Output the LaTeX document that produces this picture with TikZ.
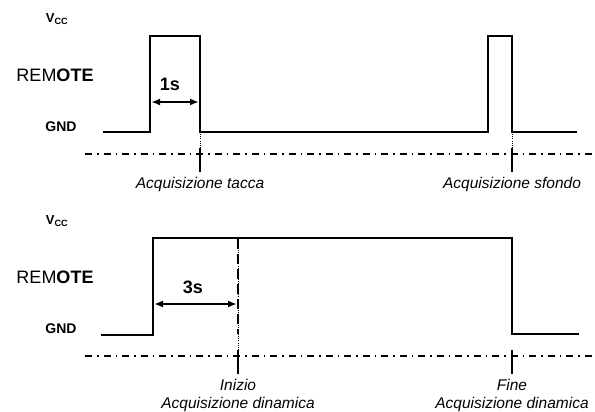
\documentclass[tikz,border=0pt]{standalone}
\usepackage{fontspec}
\setmainfont{Liberation Sans}
\usetikzlibrary{arrows.meta}

\tikzset{
  signal/.style={line width=2.8pt, line join=miter},
  axisline/.style={line width=1.2pt, dash pattern=on 7pt off 5pt on 1.5pt off 5pt},
  tickmark/.style={line width=2pt},
  guide/.style={line width=0.6pt, dash pattern=on 1pt off 1.2pt},
  marker/.style={line width=2.6pt, dash pattern=on 10pt off 5pt},
  span/.style={line width=1.8pt, {Latex[length=9pt,width=7pt]}-{Latex[length=9pt,width=7pt]}},
  vlabel/.style={font=\fontsize{13}{15}\selectfont\bfseries},
  gndlabel/.style={font=\fontsize{14}{16}\selectfont\bfseries},
  siglabel/.style={font=\fontsize{18}{20}\selectfont},
  dur/.style={font=\fontsize{18}{20}\selectfont\bfseries},
  note/.style={font=\fontsize{15.5}{18}\selectfont\itshape, align=center, inner sep=0pt, anchor=north},
}

\begin{document}
\begin{tikzpicture}[x=1pt,y=-1pt]
  \useasboundingbox (0,0) rectangle (595,412);

  % Pegel-Beschriftung
  \foreach \off/\n in {0/a,202/b}{
    \node[vlabel] (vcc\n) at (57,19+\off) {V\textsubscript{CC}};
    \node[siglabel] (remote\n) at (55,75+\off) {REM\textbf{OTE}};
    \node[gndlabel] (gnd\n) at (61,127+\off) {GND};
    \coordinate (axl\n) at (85,154+\off);
    \coordinate (axr\n) at (595,154+\off);
    \draw[axisline] (axl\n) -- (axr\n);
  }

  % Signal oben
  \draw[signal] (103,132) -- (150,132) -- (150,36) -- (200,36) -- (200,132)
    -- (488,132) -- (488,36) -- (512,36) -- (512,132) -- (577,132);

  % Signal unten
  \draw[signal] (101,335) -- (153,335) -- (153,238) -- (512,238) -- (512,334) -- (579,334);

  % Marker
  \foreach \x/\y/\nm in {200/0/tacca, 512/0/sfondo, 238/202/inizio, 512/202/fine}{
    \coordinate (\nm-top) at (\x,148+\y);
    \coordinate (\nm-bot) at (\x,172+\y);
    \draw[tickmark] (\nm-top) -- (\nm-bot);
  }

  % Labels
  \node[note] (tacca) at (200,177) {Acquisizione tacca};
  \node[note] (sfondo) at (512,177) {Acquisizione sfondo};
  \node[note] (inizio) at (238,379) {Inizio\\Acquisizione dinamica};
  \node[note] (fine) at (512,379) {Fine\\Acquisizione dinamica};

  % Hilfslinien
  \coordinate (g1) at (200,134);
  \coordinate (g2) at (512,134);
  \coordinate (g3) at (238,248);
  \draw[guide] (g1) -- (tacca-top);
  \draw[guide] (g2) -- (sfondo-top);
  \draw[guide] (g3) -- (inizio-top);
  \coordinate (m1) at (238,239);
  \coordinate (m2) at (238,334);
  \draw[marker] (m1) -- (m2);

  % Dauer
  \coordinate (s1a) at (151,102);
  \coordinate (s1b) at (199,102);
  \draw[span] (s1a) -- (s1b);
  \node[dur] (t1) at (170,84) {1s};
  \coordinate (s3a) at (154,304);
  \coordinate (s3b) at (237,304);
  \draw[span] (s3a) -- (s3b);
  \node[dur] (t3) at (193,287) {3s};
\end{tikzpicture}
\end{document}
